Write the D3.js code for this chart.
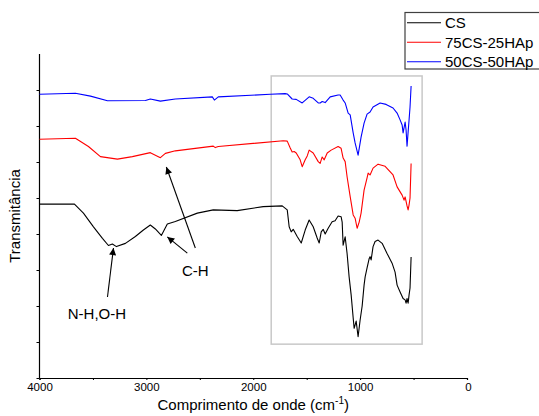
<!DOCTYPE html>
<html>
<head>
<meta charset="utf-8">
<script src="https://cdn.jsdelivr.net/npm/d3@7"></script>
<style>
    body { margin: 0; background: #fff; }
    text { font-family: "Liberation Sans", Arial, sans-serif; }
</style>
</head>
<body>
<div id="chart"></div>
<script>
const width = 539;
const height = 416;

// series names and [wavenumber, transmittance] points
const seriesNames = ["CS", "75CS-25HAp", "50CS-50HAp"];
const seriesColors = ["#000000", "#ff0000", "#0000ff"];

const csData = [
    [4000, 48.3], [3673, 48.3], [3589, 45.8], [3495, 42.0], [3411, 38.8], [3355, 36.8],
    [3318, 37.2], [3280, 36.5], [3196, 37.4], [3103, 39.3], [3028, 41.1], [2963, 42.5],
    [2916, 41.4], [2860, 39.6], [2804, 42.8], [2729, 43.5], [2523, 45.8], [2374, 46.7],
    [2150, 46.5], [1907, 47.6], [1729, 47.8], [1682, 46.7], [1664, 42.0], [1645, 40.6],
    [1626, 41.3], [1589, 39.3], [1551, 37.5], [1514, 41.1], [1477, 43.9], [1439, 42.0],
    [1402, 38.9], [1383, 37.5], [1364, 40.6], [1346, 41.3], [1327, 40.0], [1299, 41.6],
    [1262, 43.4], [1234, 43.7], [1206, 45.0], [1178, 44.8], [1168, 43.3], [1159, 36.9],
    [1140, 39.2], [1122, 34.6], [1103, 28.1], [1084, 23.1], [1065, 16.7], [1056, 13.8],
    [1037, 15.8], [1019, 11.5], [1000, 16.1], [981, 20.0], [963, 25.8], [953, 28.1],
    [935, 30.6], [916, 33.1], [907, 33.7], [897, 32.8], [879, 36.5], [860, 37.9],
    [832, 38.3], [794, 37.4], [748, 34.6], [701, 31.9], [673, 29.4], [654, 25.8],
    [626, 23.9], [598, 22.1], [579, 21.7], [570, 20.8], [561, 22.1], [551, 20.8],
    [542, 23.1], [533, 25.0], [523, 33.6]
];

const cs75Data = [
    [4000, 66.3], [3664, 66.6], [3542, 64.3], [3430, 61.5], [3271, 60.8], [3131, 61.5],
    [2963, 62.6], [2869, 61.2], [2822, 62.4], [2729, 63.1], [2374, 64.4], [2355, 64.0],
    [2327, 64.3], [1720, 65.9], [1682, 65.8], [1654, 63.9], [1636, 62.8], [1617, 62.9],
    [1598, 62.5], [1561, 60.6], [1542, 58.7], [1514, 60.6], [1495, 61.7], [1477, 63.3],
    [1439, 62.5], [1392, 60.1], [1374, 59.6], [1355, 61.4], [1336, 60.6], [1308, 62.5],
    [1271, 63.3], [1206, 64.3], [1178, 63.8], [1159, 61.1], [1140, 60.1], [1122, 55.9],
    [1093, 50.4], [1065, 45.3], [1047, 44.4], [1028, 41.6], [1009, 43.3], [991, 45.8],
    [963, 52.2], [935, 55.6], [925, 56.9], [907, 56.4], [879, 58.3], [832, 59.4],
    [766, 58.8], [692, 56.4], [654, 53.1], [607, 50.8], [589, 49.4], [579, 50.3],
    [561, 47.8], [551, 46.7], [542, 48.1], [533, 50.0], [523, 59.6]
];

const cs50Data = [
    [4000, 78.8], [3664, 79.1], [3523, 78.3], [3364, 77.0], [3009, 77.1], [2963, 77.5],
    [2869, 76.9], [2729, 77.5], [2383, 78.1], [2364, 77.2], [2327, 78.1], [1841, 78.8],
    [1701, 79.0], [1682, 78.9], [1636, 77.5], [1598, 77.4], [1542, 76.4], [1477, 78.1],
    [1439, 77.7], [1392, 76.4], [1374, 76.4], [1355, 76.8], [1327, 76.5], [1280, 78.1],
    [1206, 78.6], [1187, 78.6], [1159, 77.2], [1140, 76.4], [1112, 73.6], [1093, 73.1],
    [1065, 68.1], [1047, 65.3], [1019, 61.9], [991, 66.9], [963, 70.8], [935, 73.3],
    [907, 73.9], [879, 75.3], [813, 76.4], [757, 76.0], [692, 75.0], [654, 73.6],
    [626, 71.7], [607, 70.3], [598, 68.1], [579, 71.1], [570, 68.9], [561, 64.4],
    [551, 68.3], [542, 71.7], [533, 75.3], [523, 81.1]
];

const xTicks = [4000, 3000, 2000, 1000, 0];
const xMinorTicks = [3500, 2500, 1500, 500];
const yTicks = [0, 10, 20, 30, 40, 50, 60, 70, 80];

// highlighted fingerprint region [wavenumber from, to], [transmittance from, to]
const boxRange = [[1832, 420], [83.9, 9.4]];

// annotation labels and arrows (data coordinates)
const labels = [
    {text: "N-H,O-H", at: [3463, 16.4]},
    {text: "C-H", at: [2542, 28.3]}
];
const arrows = [
    {from: [3364, 22.5], to: [3308, 36.1]},
    {from: [2542, 36.1], to: [2813, 58.6]},
    {from: [2617, 34.7], to: [2804, 39.2]}
];

const svg = d3.select("#chart")
    .append("svg")
    .attr("width", width)
    .attr("height", height);

const xScale = d3.scaleLinear().domain([4000, 0]).range([39.5, 467]);
const yScale = d3.scaleLinear().domain([0, 90]).range([378, 54]);

// fingerprint box
svg.append("rect")
    .attr("x", xScale(boxRange[0][0]))
    .attr("y", yScale(boxRange[1][0]))
    .attr("width", xScale(boxRange[0][1]) - xScale(boxRange[0][0]))
    .attr("height", yScale(boxRange[1][1]) - yScale(boxRange[1][0]))
    .attr("fill", "none")
    .attr("stroke", "#c8c8c8")
    .attr("stroke-width", 1.5);

// axes
const xAxis = d3.axisBottom(xScale)
    .tickValues(xTicks)
    .tickFormat(d3.format("d"))
    .tickSize(2)
    .tickPadding(3);
const gx = svg.append("g")
    .attr("transform", "translate(0," + yScale(0) + ")")
    .call(xAxis);
gx.selectAll(".tick text").style("font-size", "11.5px").attr("fill", "#000");
gx.selectAll(".tick").filter(d => d === 0).select("text").attr("dx", 1);

svg.append("g")
    .attr("transform", "translate(0," + yScale(0) + ")")
    .call(d3.axisBottom(xScale).tickValues(xMinorTicks).tickSize(2).tickFormat(""))
    .select(".domain").remove();

const gy = svg.append("g")
    .attr("transform", "translate(" + xScale(4000) + ",0)")
    .call(d3.axisLeft(yScale).tickValues(yTicks).tickSize(3).tickFormat(""));
gy.select(".domain").attr("d", "M0," + yScale(90) + "V" + yScale(0));

svg.selectAll(".domain").attr("stroke", "#000").attr("stroke-width", 1.2);

// axis titles
const xTitle = svg.append("text")
    .attr("x", (xScale(4000) + xScale(0)) / 2)
    .attr("y", 410)
    .attr("text-anchor", "middle")
    .style("font-size", "15px")
    .text("Comprimento de onde (cm");
xTitle.append("tspan").attr("dy", -6).style("font-size", "10px").text("-1");
xTitle.append("tspan").attr("dy", 6).text(")");

svg.append("text")
    .attr("transform", "translate(20," + (yScale(0) + yScale(90)) / 2 + ") rotate(-90)")
    .attr("text-anchor", "middle")
    .style("font-size", "15px")
    .text("Transmitância");

// spectra
const line = d3.line()
    .x(d => xScale(d[0]))
    .y(d => yScale(d[1]));

[csData, cs75Data, cs50Data].forEach((data, i) => {
    svg.append("path")
        .datum(data)
        .attr("fill", "none")
        .attr("stroke", seriesColors[i])
        .attr("stroke-width", 1.1)
        .attr("stroke-linejoin", "round")
        .attr("d", line);
});

// annotations
svg.append("defs").append("marker")
    .attr("id", "head")
    .attr("viewBox", "0 0 10 10")
    .attr("refX", 10)
    .attr("refY", 5)
    .attr("markerWidth", 9)
    .attr("markerHeight", 7)
    .attr("markerUnits", "userSpaceOnUse")
    .attr("orient", "auto")
    .append("path")
    .attr("d", "M0,0L10,5L0,10Z")
    .attr("fill", "#000");

arrows.forEach(a => {
    svg.append("line")
        .attr("x1", xScale(a.from[0]))
        .attr("y1", yScale(a.from[1]))
        .attr("x2", xScale(a.to[0]))
        .attr("y2", yScale(a.to[1]))
        .attr("stroke", "#000")
        .attr("stroke-width", 1.1)
        .attr("marker-end", "url(#head)");
});

labels.forEach(l => {
    svg.append("text")
        .attr("x", xScale(l.at[0]))
        .attr("y", yScale(l.at[1]))
        .attr("text-anchor", "middle")
        .style("font-size", "15px")
        .text(l.text);
});

// legend
const legend = svg.append("g");
legend.append("rect")
    .attr("x", 405)
    .attr("y", 12.5)
    .attr("width", 150)
    .attr("height", 56.5)
    .attr("fill", "#fff")
    .attr("stroke", "#404040")
    .attr("stroke-width", 1.2);

seriesNames.forEach((name, i) => {
    const y = 22.7 + i * 19.5;
    legend.append("line")
        .attr("x1", 407).attr("x2", 441)
        .attr("y1", y).attr("y2", y)
        .attr("stroke", seriesColors[i])
        .attr("stroke-width", 1.1);
    legend.append("text")
        .attr("x", 445)
        .attr("y", y + 5.5)
        .style("font-size", "15px")
        .text(name);
});
</script>
</body>
</html>
